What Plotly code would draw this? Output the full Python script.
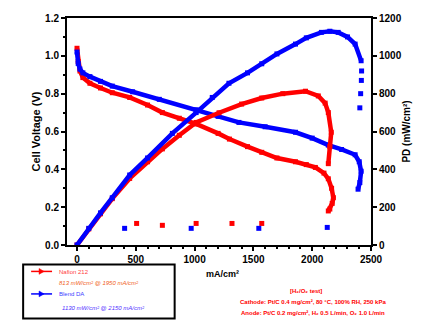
import plotly.graph_objects as go

# ---- data ----
red_v_i = [0, 10, 25, 50, 110, 200, 300, 448, 600, 726, 870, 1013, 1200, 1296, 1450, 1571, 1700, 1858, 1950, 2027, 2100, 2137, 2165, 2180, 2170, 2150, 2137]
red_v = [1.04, 0.97, 0.92, 0.885, 0.855, 0.83, 0.805, 0.78, 0.74, 0.70, 0.67, 0.64, 0.59, 0.56, 0.52, 0.49, 0.46, 0.44, 0.425, 0.41, 0.38, 0.35, 0.30, 0.25, 0.22, 0.19, 0.18]

red_p_i = [0, 100, 200, 300, 448, 600, 726, 870, 1013, 1208, 1400, 1571, 1750, 1943, 2052, 2110, 2137, 2162, 2150, 2137]
red_p = [0, 85, 165, 245, 352, 440, 508, 580, 648, 699, 745, 777, 800, 813, 788, 750, 700, 596, 520, 430]

blue_v_i = [0, 10, 25, 50, 110, 200, 300, 473, 700, 1013, 1200, 1377, 1600, 1858, 2000, 2137, 2250, 2365, 2400, 2416, 2405, 2390]
blue_v = [1.02, 0.96, 0.93, 0.91, 0.89, 0.865, 0.84, 0.81, 0.77, 0.715, 0.68, 0.648, 0.625, 0.596, 0.565, 0.528, 0.505, 0.477, 0.44, 0.39, 0.33, 0.295]

blue_p_i = [0, 100, 200, 300, 448, 600, 811, 1013, 1150, 1292, 1450, 1571, 1700, 1858, 1950, 2078, 2150, 2221, 2300, 2365, 2416]
blue_p = [0, 88, 170, 250, 370, 460, 590, 700, 780, 855, 910, 958, 1010, 1062, 1095, 1124, 1130, 1124, 1100, 1062, 974]
blue_p_tail_i = [2420, 2418, 2412, 2405]
blue_p_tail = [920, 870, 800, 725]

red_extra_i = [507, 726, 1013, 1318, 1571]
red_extra_v = [0.114, 0.104, 0.114, 0.114, 0.114]
blue_extra_i = [405, 971, 1546, 2128]
blue_extra_v = [0.088, 0.088, 0.088, 0.093]

x_ticks = [0, 500, 1000, 1500, 2000, 2500]
yl_ticks = [0, 0.2, 0.4, 0.6, 0.8, 1.0, 1.2]
yr_ticks = [0, 200, 400, 600, 800, 1000, 1200]

RED = "#ff0000"
BLUE = "#0000ff"

fig = go.Figure()

def add(x, y, color, axis="y", mode="lines+markers", size=5, width=4.5):
    fig.add_trace(go.Scatter(
        x=x, y=y, mode=mode, yaxis=axis,
        line=dict(color=color, width=width),
        marker=dict(symbol="square", size=size, color=color),
        showlegend=False, hoverinfo="skip"))

add(red_v_i, red_v, RED)
add(red_p_i, red_p, RED, axis="y2")
add(blue_v_i, blue_v, BLUE)
add(blue_p_i, blue_p, BLUE, axis="y2")
add(blue_p_tail_i, blue_p_tail, BLUE, axis="y2", mode="markers", size=5)
add(red_extra_i, red_extra_v, RED, mode="markers", size=5)
add(blue_extra_i, blue_extra_v, BLUE, mode="markers", size=5)

tickfont = dict(family="Liberation Sans", size=10, color="black", weight="bold")
axcommon = dict(showline=True, linecolor="black", linewidth=2, ticks="outside",
                ticklen=4, tickwidth=2, tickcolor="black", showgrid=False,
                zeroline=False, tickfont=tickfont)
titlefont = dict(family="Liberation Sans", size=11, color="black", weight="bold")

fig.update_layout(
    width=423, height=322,
    margin=dict(l=67, r=51, t=13, b=77),
    paper_bgcolor="white", plot_bgcolor="white",
    xaxis=dict(range=[-85, 2500], tickvals=x_ticks, mirror=True,
               minor=dict(dtick=100, ticks="outside", ticklen=2, tickwidth=1.5, tickcolor="black"),
               **axcommon),
    yaxis=dict(range=[0, 1.2], tickvals=yl_ticks, tickformat=".1f",
               minor=dict(dtick=0.1, ticks="outside", ticklen=2, tickwidth=1.5, tickcolor="black"),
               title=dict(text="Cell Voltage (V)", font=titlefont, standoff=2),
               **axcommon),
    yaxis2=dict(range=[0, 1200], tickvals=yr_ticks, overlaying="y", side="right",
                title=dict(text="PD (mW/cm²)", font=dict(titlefont, size=10), standoff=2),
                **axcommon),
)

def px2x(px):
    return (px - 67) / 305.0

def py2y(py):
    return (245 - py) / 232.0

# legend box
fig.add_shape(type="rect", xref="paper", yref="paper",
              x0=px2x(23), x1=px2x(175), y0=py2y(320), y1=py2y(265),
              line=dict(color="black", width=2), fillcolor="white")

def ann(x, y, text, color, size=6, weight="normal", xanchor="left", italic=False):
    fig.add_annotation(xref="paper", yref="paper", x=x, y=y, text=text,
                       showarrow=False, xanchor=xanchor, yanchor="middle",
                       font=dict(family="Liberation Sans", size=size, color=color, weight=weight,
                                 style="italic" if italic else "normal"))

# legend symbols
for py, col in [(272, RED), (295, BLUE)]:
    fig.add_shape(type="line", xref="paper", yref="paper",
                  x0=px2x(31), x1=px2x(52), y0=py2y(py), y1=py2y(py),
                  line=dict(color=col, width=1.5))
    fig.add_shape(type="path", xref="paper", yref="paper",
                  path="M {} {} L {} {} L {} {} Z".format(
                      px2x(39), py2y(py - 3), px2x(39), py2y(py + 3), px2x(44), py2y(py)),
                  fillcolor=col, line=dict(color=col, width=0.5))

ann(px2x(57), py2y(273), "Nafion 212", "#ff4040")
ann(px2x(57), py2y(284), "813 mW/cm² @ 1950 mA/cm²", "#f06020", italic=True)
ann(px2x(57), py2y(295), "Blend DA", "#4040ff")
ann(px2x(60), py2y(309), "1130 mW/cm² @ 2150 mA/cm²", "#5030ff", italic=True)

# x axis title
ann(px2x(223), py2y(275), "mA/cm²", "black", size=9, weight="bold", xanchor="center")

# conditions text
ann(px2x(307), py2y(292), "[H₂/O₂ test]", RED, size=6, weight="bold", xanchor="center")
ann(px2x(314), py2y(303), "Cathode: Pt/C 0.4 mg/cm², 80 °C, 100% RH, 250 kPa", RED, size=6, weight="bold", xanchor="center")
ann(px2x(314), py2y(315), "Anode: Pt/C 0.2 mg/cm², H₂ 0.5 L/min, O₂ 1.0 L/min", RED, size=6, weight="bold", xanchor="center")

fig.write_html("out.html")
